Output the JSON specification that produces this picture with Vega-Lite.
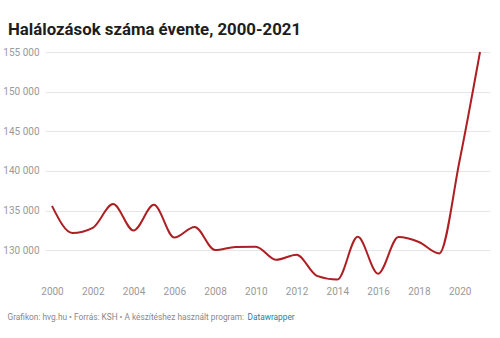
{
  "$schema": "https://vega.github.io/schema/vega-lite/v6.json",
  "width": 445,
  "height": 230,
  "autosize": {"type": "none"},
  "padding": {"left": 45, "top": 52, "right": 10, "bottom": 56},
  "background": "white",
  "title": {
    "text": "Halálozások száma évente, 2000-2021",
    "anchor": "start",
    "frame": "group",
    "dx": -37,
    "dy": 22,
    "fontSize": 16.8,
    "fontWeight": "bold",
    "font": "Roboto",
    "color": "#1d1d1d",
    "baseline": "alphabetic",
    "offset": 17
  },
  "config": {
    "view": {"stroke": null},
    "font": "Roboto"
  },
  "data": {
    "values": [
      {"year": 2000, "deaths": 135601},
      {"year": 2001, "deaths": 132183},
      {"year": 2002, "deaths": 132833},
      {"year": 2003, "deaths": 135823},
      {"year": 2004, "deaths": 132492},
      {"year": 2005, "deaths": 135732},
      {"year": 2006, "deaths": 131603},
      {"year": 2007, "deaths": 132938},
      {"year": 2008, "deaths": 130027},
      {"year": 2009, "deaths": 130414},
      {"year": 2010, "deaths": 130456},
      {"year": 2011, "deaths": 128795},
      {"year": 2012, "deaths": 129440},
      {"year": 2013, "deaths": 126778},
      {"year": 2014, "deaths": 126308},
      {"year": 2015, "deaths": 131697},
      {"year": 2016, "deaths": 127053},
      {"year": 2017, "deaths": 131674},
      {"year": 2018, "deaths": 131045},
      {"year": 2019, "deaths": 129603},
      {"year": 2020, "deaths": 141325},
      {"year": 2021, "deaths": 155000}
    ]
  },
  "mark": {"type": "line", "interpolate": "monotone", "color": "#ad1f23", "strokeWidth": 2},
  "encoding": {
    "x": {
      "field": "year",
      "type": "quantitative",
      "scale": {"domain": [1999.657, 2021.49], "nice": false, "zero": false},
      "axis": {
        "values": [2000, 2002, 2004, 2006, 2008, 2010, 2012, 2014, 2016, 2018, 2020],
        "format": "d",
        "grid": false,
        "domain": false,
        "ticks": false,
        "labelPadding": 4,
        "labelFontSize": 10,
        "labelColor": "#999999",
        "labelFont": "Roboto",
        "title": "Datawrapper",
        "titleX": 202,
        "titleY": 37,
        "titleAlign": "left",
        "titleAnchor": null,
        "titleBaseline": "alphabetic",
        "titleFontSize": 8.3,
        "titleFontWeight": "normal",
        "titleColor": "#1d81a2",
        "titleFont": "Roboto"
      }
    },
    "y": {
      "field": "deaths",
      "type": "quantitative",
      "scale": {"domain": [126000, 155000], "nice": false, "zero": false},
      "axis": {
        "values": [130000, 135000, 140000, 145000, 150000, 155000],
        "labelExpr": "replace(format(datum.value, ','), ',', ' ')",
        "grid": true,
        "gridColor": "#e6e6e6",
        "gridWidth": 1,
        "domain": false,
        "ticks": false,
        "labelPadding": 6,
        "labelFontSize": 10,
        "labelColor": "#999999",
        "labelFont": "Roboto",
        "title": "Grafikon: hvg.hu • Forrás: KSH • A készítéshez használt program:",
        "titleX": -38,
        "titleY": 267,
        "titleAngle": 0,
        "titleAlign": "left",
        "titleAnchor": null,
        "titleBaseline": "alphabetic",
        "titleFontSize": 8.3,
        "titleFontWeight": "normal",
        "titleColor": "#888888",
        "titleFont": "Roboto"
      }
    }
  }
}
